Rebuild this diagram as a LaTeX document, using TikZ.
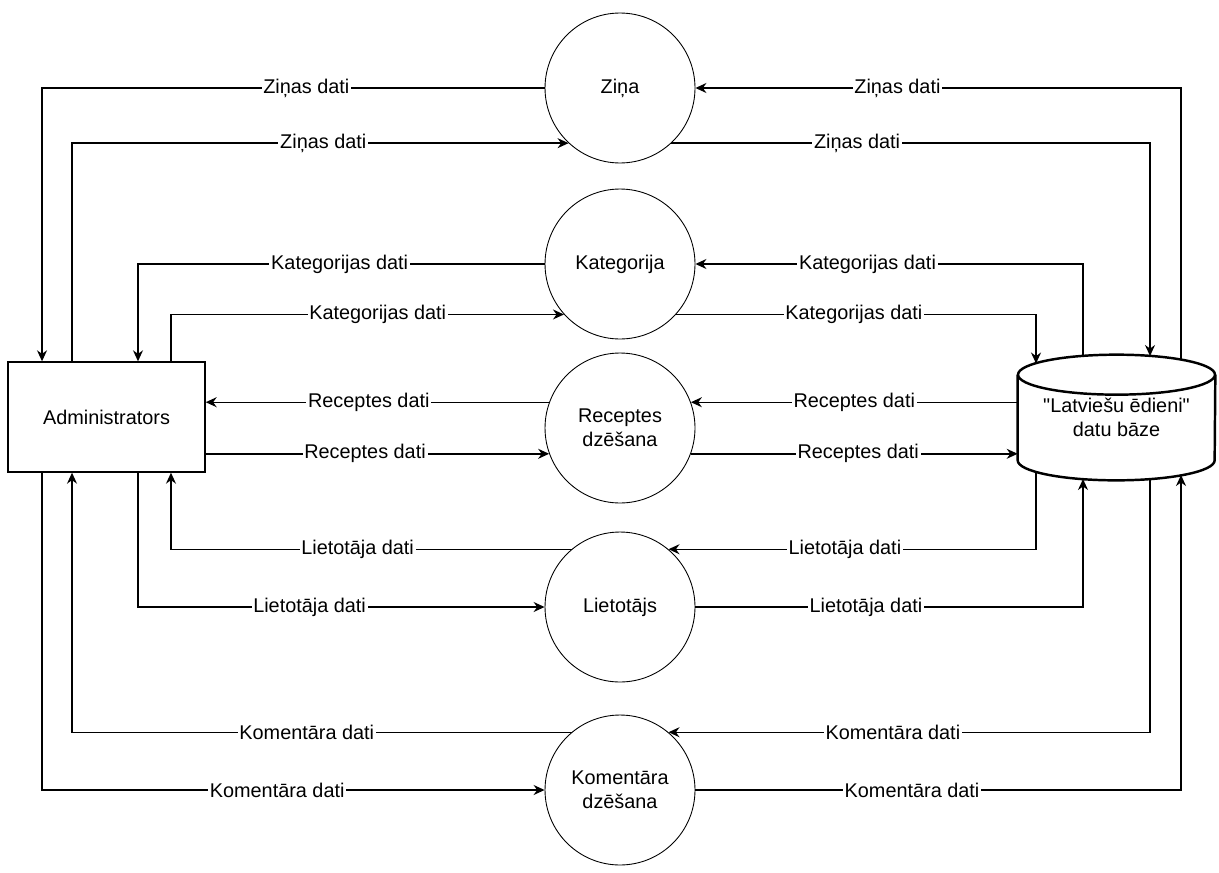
\documentclass[tikz,border=0pt]{standalone}
\usepackage{fontspec}
\setmainfont{Liberation Sans}[Ligatures=TeXOff]
\usepackage{tikz}
\usetikzlibrary{arrows.meta}

\begin{document}
\begin{tikzpicture}[
            x = 0.02cm, y = -0.02cm, % one unit is one pixel, y goes down
            > = {Stealth[length=2.2mm, width=2mm]}, % arrow head style
            font = \fontsize{11.3pt}{13.5pt}\selectfont,
        ]

        \tikzstyle{process}=[
            draw = black,
            circle,
            line width = 0.5pt,
            minimum size = 3cm,
            align = center
        ]
        \tikzstyle{entity}=[draw = black, line width = 0.8pt, minimum width = 3.94cm, minimum height = 2.2cm]
        \tikzstyle{store}=[minimum width = 3.94cm, minimum height = 2.5cm, align = center]
        \tikzstyle{flow}=[->, line width = 0.8pt]
        \tikzstyle{lbl}=[fill = white, inner sep = 1pt]

  \useasboundingbox (0,0) rectangle (1219,872);

  \node[entity] (adm) at (106.5,417) {Administrators};
  \node[process] (zina) at (620,88) {Ziņa};
  \node[process] (kat) at (620,264) {Kategorija};
  \node[process] (rec) at (620,428) {Receptes\\dzēšana};
  \node[process] (liet) at (620,607) {Lietotājs};
  \node[process] (kom) at (620,790) {Komentāra\\dzēšana};
  \node[store] (db) at (1116.5,417.5) {"Latviešu ēdieni"\\datu bāze};

  % cylinder of the data store
  \draw[line width=1.4pt] ([yshift=-0.4cm]db.north west) -- ([yshift=0.4cm]db.south west)
      arc[start angle=180, end angle=360, x radius=1.97cm, y radius=0.4cm]
      -- ([yshift=-0.4cm]db.north east);
  \draw[line width=1.4pt] ([yshift=-0.4cm]db.north) ellipse [x radius=1.97cm, y radius=0.4cm];

  % ends on the cylinder
  \coordinate (dbt1) at (1036,363.5);
  \coordinate (dbt2) at (1083,356);
  \coordinate (dbt3) at (1150,356);
  \coordinate (dbt4) at (1181,360);
  \coordinate (dbb1) at (1036,471.5);
  \coordinate (dbb2) at (1083,479);
  \coordinate (dbb3) at (1150,479);
  \coordinate (dbb4) at (1181,475);

  % administrator side
  \draw[flow] (zina.180) -| node[lbl, pos=0.237] {Ziņas dati} ([xshift=-1.29cm]adm.north);
  \draw[flow] ([xshift=-0.69cm]adm.north) |- node[lbl, pos=0.753] {Ziņas dati} (zina.227);
  \draw[flow] (kat.180) -| node[lbl, pos=0.252] {Kategorijas dati} ([xshift=0.63cm]adm.north);
  \draw[flow] ([xshift=1.29cm]adm.north) |- node[lbl, pos=0.763] {Kategorijas dati} (kat.222);
  \draw[flow] (rec.160) -- node[lbl, pos=0.525] {Receptes dati} (rec.160 -| adm.east);
  \draw[flow] (rec.200 -| adm.east) -- node[lbl, pos=0.464] {Receptes dati} (rec.200);
  \draw[flow] (liet.130) -| node[lbl, pos=0.267] {Lietotāja dati} ([xshift=1.29cm]adm.south);
  \draw[flow] ([xshift=0.63cm]adm.south) |- node[lbl, pos=0.711] {Lietotāja dati} (liet.180);
  \draw[flow] (kom.130) -| node[lbl, pos=0.265] {Komentāra dati} ([xshift=-0.69cm]adm.south);
  \draw[flow] ([xshift=-1.29cm]adm.south) |- node[lbl, pos=0.734] {Komentāra dati} (kom.180);

  % data store side
  \draw[flow] (dbt4) |- node[lbl, pos=0.792] {Ziņas dati} (zina.0);
  \draw[flow] (zina.313) -| node[lbl, pos=0.194] {Ziņas dati} (dbt3);
  \draw[flow] (dbt2) |- node[lbl, pos=0.778] {Kategorijas dati} (kat.0);
  \draw[flow] (kat.318) -| node[lbl, pos=0.247] {Kategorijas dati} (dbt1);
  \draw[flow] (rec.20 -| db.west) -- node[lbl, pos=0.5] {Receptes dati} (rec.20);
  \draw[flow] (rec.340) -- node[lbl, pos=0.512] {Receptes dati} (rec.340 -| db.west);
  \draw[flow] (dbb1) |- node[lbl, pos=0.76] {Lietotāja dati} (liet.50);
  \draw[flow] (liet.0) -| node[lbl, pos=0.22] {Lietotāja dati} (dbb2);
  \draw[flow] (dbb3) |- node[lbl, pos=0.767] {Komentāra dati} (kom.50);
  \draw[flow] (kom.0) -| node[lbl, pos=0.223] {Komentāra dati} (dbb4);

\end{tikzpicture}
\end{document}
